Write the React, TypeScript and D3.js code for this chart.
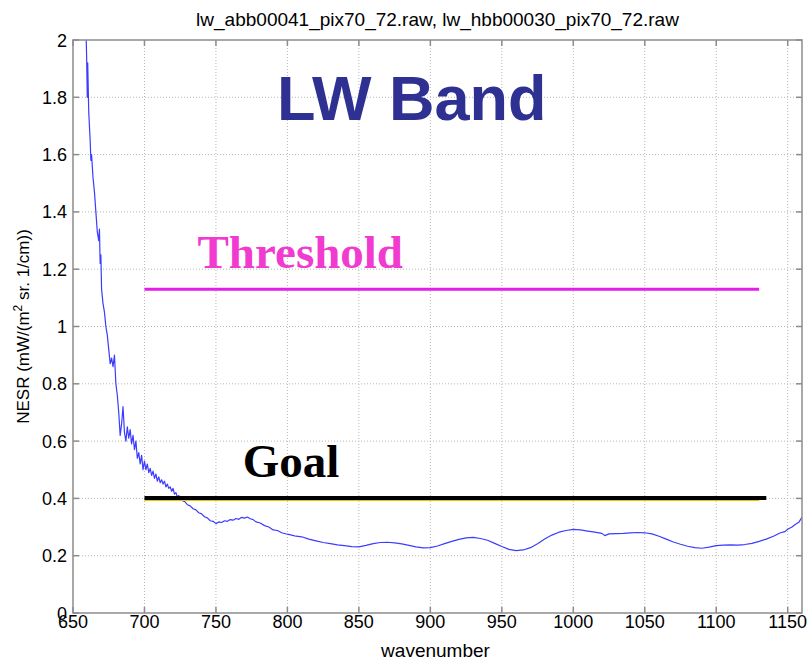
import React from "react";
import * as d3 from "d3";

// NESR spectrum (wavenumber in 1/cm, NESR in mW/(m² sr 1/cm))
const wavenumbers = [
  659, 659.5, 660, 660.3, 661, 662, 662.5, 663, 664, 665, 666, 667, 668, 668.5, 669, 669.5,
  670, 671, 672, 673, 674, 675, 676, 677, 678, 679, 680, 681, 682, 683, 684, 685, 686, 687,
  688, 689, 690, 691, 692, 693, 694, 695, 696, 697, 698, 699,
  700, 701, 702, 703, 704, 705, 706, 707, 708, 709, 710, 711, 712, 713, 714, 715, 716, 717,
  718, 719, 720, 721, 722, 723, 724, 725, 726, 727, 728, 730, 732, 734, 736, 738, 740, 742,
  744, 746, 748, 750, 752, 754, 756, 758, 760, 762, 764, 766, 768, 770, 772, 774, 776, 778,
  781, 784, 787, 790, 793, 796, 800, 803, 806, 810, 815, 820, 825, 830, 835, 840, 845, 850,
  855, 860, 865, 870, 875, 880, 885, 890, 895, 900, 905, 910, 915, 920, 925, 930, 935, 940,
  945, 950, 955, 960, 965, 970, 975, 980, 985, 990, 995, 1000, 1005, 1010, 1015, 1020, 1022,
  1025, 1030, 1035, 1040, 1045, 1050, 1055, 1060, 1065, 1070, 1075, 1080, 1085, 1090, 1095,
  1100, 1105, 1110, 1115, 1120, 1125, 1130, 1135, 1140, 1145, 1148, 1150, 1153, 1155, 1158,
  1160,
];
const nesr = [
  2.05, 1.95, 1.8, 1.92, 1.75, 1.65, 1.58, 1.6, 1.52, 1.47, 1.4, 1.33, 1.3, 1.34, 1.22, 1.25,
  1.13, 1.08, 1.05, 1.0, 0.97, 0.92, 0.87, 0.89, 0.86, 0.9, 0.8, 0.76, 0.7, 0.62, 0.66, 0.72,
  0.63, 0.6, 0.65, 0.61, 0.64, 0.59, 0.62, 0.57, 0.6, 0.54, 0.56, 0.52, 0.55, 0.5,
  0.53, 0.5, 0.52, 0.49, 0.505, 0.48, 0.495, 0.47, 0.485, 0.46, 0.475, 0.455, 0.465, 0.45,
  0.46, 0.44, 0.45, 0.435, 0.44, 0.425, 0.435, 0.415, 0.42, 0.405, 0.41, 0.395, 0.4, 0.39,
  0.39, 0.378, 0.374, 0.364, 0.36, 0.35, 0.346, 0.336, 0.332, 0.322, 0.32, 0.312, 0.318,
  0.316, 0.322, 0.32, 0.326, 0.324, 0.33, 0.327, 0.334, 0.331, 0.335, 0.329, 0.326, 0.318,
  0.314, 0.305, 0.3, 0.29, 0.288, 0.28, 0.275, 0.272, 0.268, 0.266, 0.258, 0.252, 0.246,
  0.242, 0.238, 0.235, 0.232, 0.231, 0.236, 0.242, 0.246, 0.247, 0.245, 0.241, 0.236, 0.231,
  0.227, 0.228, 0.234, 0.242, 0.25, 0.257, 0.262, 0.264, 0.26, 0.254, 0.243, 0.232, 0.222,
  0.218, 0.22, 0.228, 0.242, 0.258, 0.272, 0.282, 0.288, 0.292, 0.29, 0.286, 0.282, 0.278,
  0.27, 0.276, 0.277, 0.278, 0.28, 0.281, 0.28, 0.276, 0.268, 0.258, 0.248, 0.24, 0.233,
  0.228, 0.226, 0.23, 0.235, 0.237, 0.238, 0.237, 0.239, 0.243, 0.25, 0.258, 0.268, 0.28,
  0.284, 0.292, 0.3, 0.308, 0.318, 0.335,
];

const xTicks = [650, 700, 750, 800, 850, 900, 950, 1000, 1050, 1100, 1150];
const yTicks = [0, 0.2, 0.4, 0.6, 0.8, 1, 1.2, 1.4, 1.6, 1.8, 2];

// Requirement levels
const thresholdLevel = 1.13;
const thresholdRange = [700, 1130];
const goalLevel = 0.4;
const goalRange = [700, 1135];
const goalUnderlineRange = [700, 1130];

const W = 811;
const H = 662;
const margin = { left: 73, right: 9, top: 40, bottom: 49 };
const sans = "'Liberation Sans', Arial, Helvetica, sans-serif";
const serif = "'Liberation Serif', 'Times New Roman', serif";

export default function App() {
  const x = d3.scaleLinear().domain([650, 1160]).range([margin.left, W - margin.right]);
  const y = d3.scaleLinear().domain([0, 2]).range([H - margin.bottom, margin.top]);
  const x0 = x.range()[0];
  const x1 = x.range()[1];
  const y0 = y.range()[0];
  const y1 = y.range()[1];

  const pts = wavenumbers.map((w, i) => [w, nesr[i]] as [number, number]);
  const line = d3
    .line<[number, number]>()
    .x((d) => x(d[0]))
    .y((d) => y(d[1]));

  const axisColor = "#8c8c8c";
  const tickLen = 6;

  return (
    <svg
      width={W}
      height={H}
      style={{ position: "absolute", left: 0, top: 0, background: "#fff" }}
    >
      <defs>
        <clipPath id="plot">
          <rect x={x0} y={y1} width={x1 - x0} height={y0 - y1} />
        </clipPath>
      </defs>
      <rect x={0} y={0} width={W} height={H} fill="#fff" />

      {/* grid */}
      {xTicks.slice(1).map((t) => (
        <line key={"gx" + t} x1={x(t)} x2={x(t)} y1={y0} y2={y1} stroke="#b8b8b8" strokeWidth={1} strokeDasharray="1,2" />
      ))}
      {yTicks.slice(1, -1).map((t) => (
        <line key={"gy" + t} x1={x0} x2={x1} y1={y(t)} y2={y(t)} stroke="#b8b8b8" strokeWidth={1} strokeDasharray="1,2" />
      ))}

      {/* tick marks on all four sides */}
      {xTicks.map((t) => (
        <g key={"tx" + t}>
          <line x1={x(t)} x2={x(t)} y1={y0} y2={y0 - tickLen} stroke={axisColor} strokeWidth={1.5} />
          <line x1={x(t)} x2={x(t)} y1={y1} y2={y1 + tickLen} stroke={axisColor} strokeWidth={1.5} />
        </g>
      ))}
      {yTicks.map((t) => (
        <g key={"ty" + t}>
          <line x1={x0} x2={x0 + tickLen} y1={y(t)} y2={y(t)} stroke={axisColor} strokeWidth={1.5} />
          <line x1={x1} x2={x1 - tickLen} y1={y(t)} y2={y(t)} stroke={axisColor} strokeWidth={1.5} />
        </g>
      ))}

      {/* spectrum */}
      <path
        d={line(pts) || ""}
        fill="none"
        stroke="#3c3cff"
        strokeWidth={1.2}
        strokeLinejoin="round"
        clipPath="url(#plot)"
      />

      {/* threshold requirement */}
      <line
        x1={x(thresholdRange[0])}
        x2={x(thresholdRange[1])}
        y1={y(thresholdLevel)}
        y2={y(thresholdLevel)}
        stroke="#e21ee8"
        strokeWidth={3}
      />
      {/* goal requirement */}
      <line
        x1={x(goalUnderlineRange[0])}
        x2={x(goalUnderlineRange[1])}
        y1={y(goalLevel) + 1.5}
        y2={y(goalLevel) + 1.5}
        stroke="#e8c400"
        strokeWidth={2}
      />
      <line
        x1={x(goalRange[0])}
        x2={x(goalRange[1])}
        y1={y(goalLevel) - 0.5}
        y2={y(goalLevel) - 0.5}
        stroke="#000"
        strokeWidth={4}
      />

      {/* frame */}
      <rect x={x0} y={y1} width={x1 - x0} height={y0 - y1} fill="none" stroke={axisColor} strokeWidth={1.5} />

      {/* tick labels */}
      {yTicks.map((t) => (
        <text key={"ly" + t} x={x0 - 6} y={y(t) + 6.5} textAnchor="end" fontFamily={sans} fontSize={18} fill="#000">
          {d3.format("~g")(t)}
        </text>
      ))}
      {xTicks.map((t) => (
        <text key={"lx" + t} x={x(t)} y={y0 + 15} textAnchor="middle" fontFamily={sans} fontSize={18} fill="#000">
          {t}
        </text>
      ))}

      {/* axis titles */}
      <text x={(x0 + x1) / 2 - 2} y={H - 5} textAnchor="middle" fontFamily={sans} fontSize={19} fill="#000">
        wavenumber
      </text>
      <text
        transform={`translate(29, ${(y0 + y1) / 2}) rotate(-90)`}
        textAnchor="middle"
        fontFamily={sans}
        fontSize={17}
        fill="#000"
      >
        NESR (mW/(m<tspan dy={-7} fontSize={12}>2</tspan>
        <tspan dy={7}> sr. 1/cm))</tspan>
      </text>
      <text x={(x0 + x1) / 2} y={26} textAnchor="middle" fontFamily={sans} fontSize={19} fill="#000">
        lw_abb00041_pix70_72.raw, lw_hbb00030_pix70_72.raw
      </text>

      {/* annotations */}
      <text x={x(887)} y={120} textAnchor="middle" fontFamily={sans} fontWeight="bold" fontSize={63} fill="#2f3192">
        LW Band
      </text>
      <text x={x(809)} y={268} textAnchor="middle" fontFamily={serif} fontWeight="bold" fontSize={47} fill="#f03ad0">
        Threshold
      </text>
      <text x={x(802.5)} y={477} textAnchor="middle" fontFamily={serif} fontWeight="bold" fontSize={47} fill="#000">
        Goal
      </text>
    </svg>
  );
}
